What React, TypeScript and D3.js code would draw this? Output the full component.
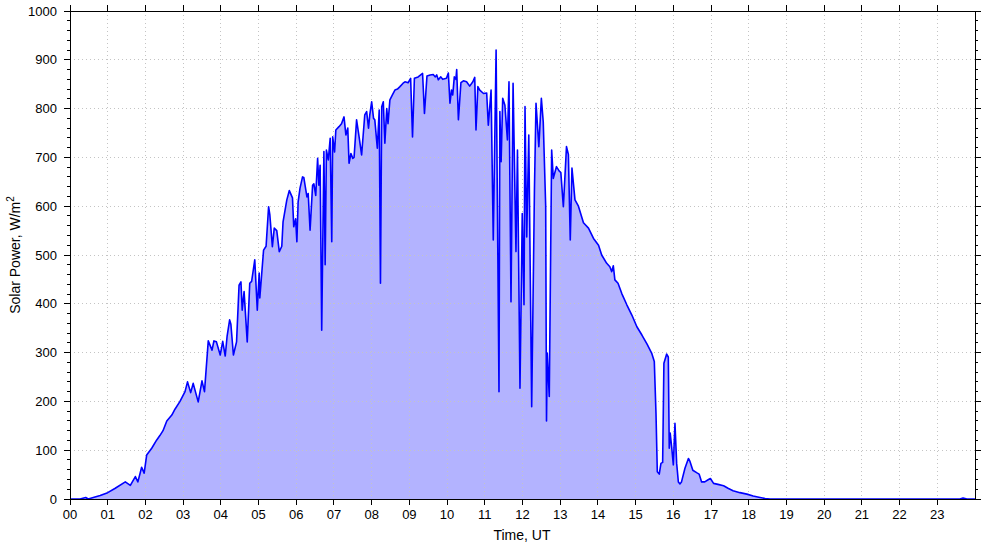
import React from "react";
import * as d3 from "d3";

// time in minutes UT
const times = [
  0, 16, 25, 29, 37, 48, 60, 72, 88, 96, 104, 108, 114, 118, 122, 130, 138, 143, 148, 154,
  162, 167, 175, 183, 187, 192, 196, 204, 210, 214, 220, 226, 229, 233, 239, 243, 247, 250, 254, 256,
  260, 265, 269, 272, 274, 277, 282, 286, 289, 294, 298, 301, 302, 308, 312, 316, 318, 322, 325, 329,
  333, 337, 339, 345, 349, 354, 356, 359, 361, 363, 366, 370, 372, 377, 379, 382, 386, 388, 391, 394,
  396, 398, 400.5, 404, 406, 408, 411, 414, 416.5, 418, 421, 423, 428, 432, 436, 439, 442, 444, 447, 450,
  452, 456, 460, 464, 469, 472, 475, 477, 480, 483, 485, 489, 492, 494, 496, 498.5, 501, 504, 506, 509,
  513, 517, 521, 525, 530, 533, 538, 542, 545, 548, 554, 561, 564, 568, 573, 578, 581, 583.5, 586, 590,
  593, 599, 602, 604.6, 607, 609, 611.5, 614, 615.3, 618, 622, 626, 631, 636, 641, 644, 646, 649, 652, 658,
  663, 665.6, 670, 673.5, 678, 682.6, 684, 686, 688.5, 692, 696, 698.5, 701.7, 705, 709.6, 712, 716, 719.6, 722.4, 724,
  726.7, 730, 734.6, 739, 741.5, 746, 750, 753, 756.9, 758.2, 759.4, 762.6, 766.4, 769, 774, 778.5, 781, 785, 790, 793,
  796, 798.7, 803.5, 809, 817, 825, 833, 841, 846, 854, 859, 862, 864.5, 867, 872, 878, 886, 894, 902, 910,
  918, 925.5, 929.7, 932.4, 934.5, 937.6, 940.3, 943, 945, 949.4, 952, 953.5, 955, 957.3, 960, 962.6, 965.3, 968, 970.6, 973,
  978.5, 984, 986.5, 991, 997, 1001, 1005, 1010, 1016, 1019, 1024, 1031, 1040, 1047, 1055, 1066, 1077, 1087, 1098, 1106,
  1114, 1416, 1421, 1427, 1440,
];

// solar power, W/m2
const power = [
  0, 0, 3, 0, 3, 7, 13, 22, 35, 28, 46, 35, 65, 53, 90, 104, 121, 130, 140, 160,
  172, 184, 200, 220, 240, 218, 237, 199, 242, 220, 324, 305, 324, 322, 295, 323, 293, 334, 367, 358,
  295, 322, 438, 445, 387, 425, 322, 442, 446, 490, 387, 463, 412, 510, 518, 599, 582, 517, 555, 550,
  507, 518, 568, 613, 632, 617, 558, 574, 527, 609, 637, 660, 659, 619, 626, 551, 643, 646, 622, 698,
  643, 684, 346, 712, 480, 715, 695, 739, 527, 742, 711, 756, 763, 769, 783, 746, 760, 688, 708, 698,
  700, 777, 742, 705, 787, 794, 760, 787, 814, 780, 777, 719, 797, 442, 804, 814, 729, 800, 769, 818,
  828, 838, 840, 845, 852, 855, 853, 862, 742, 862, 865, 872, 790, 867, 869, 870, 865, 869, 859, 865,
  860, 862, 873, 811, 838, 828, 865, 860, 880, 777, 853, 857, 855, 846, 855, 864, 756, 845, 838, 831,
  832, 766, 838, 531, 920, 220, 794, 691, 821, 807, 736, 855, 404, 852, 507, 715, 227, 585, 398, 804,
  537, 746, 189, 633, 811, 722, 821, 773, 600, 160, 299, 210, 715, 657, 681, 672, 669, 599, 722, 706,
  531, 678, 613, 600, 566, 555, 534, 520, 500, 483, 476, 466, 478, 449, 442, 421, 398, 377, 353, 336,
  318, 299, 282, 176, 56, 51, 73, 75, 278, 297, 291, 104, 135, 107, 70, 155, 73, 35, 31, 35,
  63, 83, 77, 59, 54, 51, 35, 35, 40, 42, 32, 30, 27, 22, 17, 13, 10, 6, 3, 1,
  0, 0, 2, 0, 0,
];

const hourLabels = d3.range(0, 24).map((h) => (h < 10 ? "0" + h : String(h)));
const yTicks = d3.range(0, 1001, 100);

const W = 985;
const H = 547;
const M = { left: 70, right: 975, top: 11, bottom: 499 };
const FONT = "'Liberation Sans', Arial, sans-serif";

export default function App() {
  const x = d3.scaleLinear().domain([0, 24]).range([M.left, M.right]);
  const y = d3.scaleLinear().domain([0, 1000]).range([M.bottom, M.top]);
  const pts = times.map((t, i) => [t / 60, power[i]] as [number, number]);
  const area = d3
    .area<[number, number]>()
    .x((d) => x(d[0]))
    .y0(y(0))
    .y1((d) => y(d[1]));
  const line = d3
    .line<[number, number]>()
    .x((d) => x(d[0]))
    .y((d) => y(d[1]));
  const minorY = d3.range(0, 1001, 20).filter((v) => v % 100 !== 0);

  return (
    <svg
      width={W}
      height={H}
      style={{ position: "absolute", left: 0, top: 0, background: "#fff" }}
      fontFamily={FONT}
      fontSize={13}
    >
      <path d={area(pts) || ""} fill="#b3b3ff" stroke="none" />
      {/* grid */}
      {hourLabels.map((_, i) =>
        i === 0 ? null : (
          <line
            key={"gx" + i}
            x1={x(i)}
            x2={x(i)}
            y1={M.top}
            y2={M.bottom}
            stroke="#c4c4c4"
            strokeDasharray="1,3"
            strokeWidth={1}
            shapeRendering="crispEdges"
          />
        )
      )}
      {yTicks.map((v) =>
        v === 0 || v === 1000 ? null : (
          <line
            key={"gy" + v}
            x1={M.left}
            x2={M.right}
            y1={y(v)}
            y2={y(v)}
            stroke="#c4c4c4"
            strokeDasharray="1,3"
            strokeWidth={1}
            shapeRendering="crispEdges"
          />
        )
      )}
      <path d={line(pts) || ""} fill="none" stroke="#0000ff" strokeWidth={1.6} strokeLinejoin="round" />
      {/* frame */}
      <rect
        x={M.left}
        y={M.top}
        width={M.right - M.left}
        height={M.bottom - M.top}
        fill="none"
        stroke="#000"
        strokeWidth={1}
        shapeRendering="crispEdges"
      />
      {/* x ticks */}
      {hourLabels.map((lab, i) => (
        <g key={"xt" + i}>
          <line x1={x(i)} x2={x(i)} y1={M.bottom} y2={M.bottom + 6} stroke="#000" shapeRendering="crispEdges" />
          <line x1={x(i)} x2={x(i)} y1={M.top} y2={M.top - 6} stroke="#000" shapeRendering="crispEdges" />
          <text x={x(i)} y={519} textAnchor="middle" fill="#000">
            {lab}
          </text>
        </g>
      ))}
      {/* y ticks */}
      {yTicks.map((v) => (
        <g key={"yt" + v}>
          <line x1={M.left - 6} x2={M.left} y1={y(v)} y2={y(v)} stroke="#000" shapeRendering="crispEdges" />
          <line x1={M.right} x2={M.right + 6} y1={y(v)} y2={y(v)} stroke="#000" shapeRendering="crispEdges" />
          <text x={57} y={y(v)} dy="0.35em" textAnchor="end" fill="#000">
            {v}
          </text>
        </g>
      ))}
      {minorY.map((v) => (
        <g key={"my" + v}>
          <line x1={M.left - 3} x2={M.left} y1={y(v)} y2={y(v)} stroke="#000" shapeRendering="crispEdges" />
          <line x1={M.right} x2={M.right + 3} y1={y(v)} y2={y(v)} stroke="#000" shapeRendering="crispEdges" />
        </g>
      ))}
      <text x={522} y={540} textAnchor="middle" fill="#000" fontSize={14}>
        Time, UT
      </text>
      <text
        transform={`translate(20,${(M.top + M.bottom) / 2}) rotate(-90)`}
        textAnchor="middle"
        fill="#000"
        fontSize={14}
      >
        Solar Power, W/m<tspan dy={-6} fontSize={10}>2</tspan>
      </text>
    </svg>
  );
}
